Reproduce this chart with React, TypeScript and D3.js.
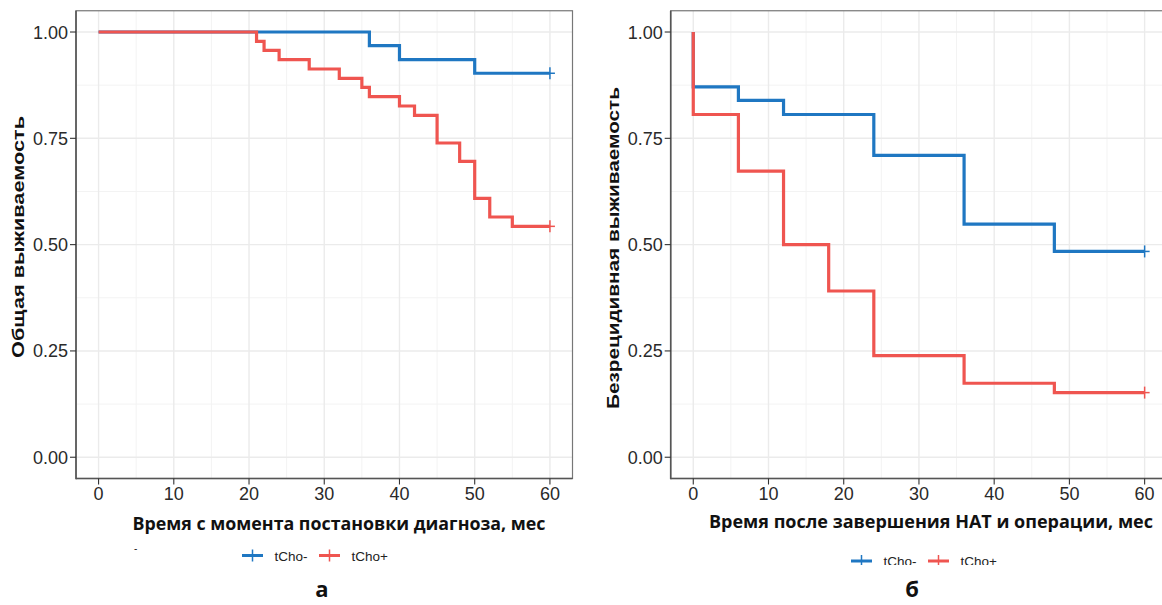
import React from 'react';
import * as d3 from 'd3';

const xTicks = [0, 10, 20, 30, 40, 50, 60];
const xMinor = [5, 15, 25, 35, 45, 55];
const yTicks = [0, 0.25, 0.5, 0.75, 1];
const yMinor = [0.125, 0.375, 0.625, 0.875];
const groups = ['tCho-', 'tCho+'];
const colors = ['#1f77c2', '#ef5550'];

// а — общая выживаемость
const osTimeNeg = [0, 36, 40, 50, 60];
const osSurvNeg = [1, 0.968, 0.935, 0.903, 0.903];
const osTimePos = [0, 21, 22, 24, 28, 32, 35, 36, 40, 42, 45, 48, 50, 52, 55, 60];
const osSurvPos = [1, 0.978, 0.957, 0.935, 0.913, 0.891, 0.87, 0.848, 0.826, 0.804, 0.739, 0.696, 0.609, 0.565, 0.543, 0.543];

// б — безрецидивная выживаемость
const dfsTimeNeg = [0, 0, 6, 12, 24, 36, 48, 60];
const dfsSurvNeg = [1, 0.871, 0.839, 0.806, 0.71, 0.548, 0.484, 0.484];
const dfsTimePos = [0, 0, 6, 12, 18, 24, 36, 48, 60];
const dfsSurvPos = [1, 0.806, 0.673, 0.5, 0.391, 0.239, 0.174, 0.152, 0.152];

const tickFont = '"Liberation Sans", Arial, sans-serif';
const titleFont = '"Open Sans", "Noto Sans", sans-serif';

type Curve = { times: number[]; surv: number[]; color: string };

const Panel = (props: {
  left: number;
  curves: Curve[];
  yTitle: string;
  yTitleX: number;
  yTitleY: number;
  yTitleLen: number;
  xTitle: string;
  xTitleX: number;
  xTitleY: number;
  xTitleLen: number;
}) => {
  const x = d3.scaleLinear().domain([-3, 63]).range([props.left, props.left + 496.5]);
  const y = d3.scaleLinear().domain([-0.05, 1.05]).range([478.5, 10.75]);
  const [x0, x1] = x.range();
  const [y0, y1] = y.range();
  const line = d3
    .line<[number, number]>()
    .x((d) => x(d[0]))
    .y((d) => y(d[1]))
    .curve(d3.curveStepAfter);

  return (
    <g>
      {/* grid */}
      {xMinor.map((t) => (
        <line key={'xm' + t} x1={x(t)} x2={x(t)} y1={y1} y2={y0} stroke="#f3f3f3" strokeWidth={1} />
      ))}
      {yMinor.map((v) => (
        <line key={'ym' + v} x1={x0} x2={x1} y1={y(v)} y2={y(v)} stroke="#f3f3f3" strokeWidth={1} />
      ))}
      {xTicks.map((t) => (
        <line key={'xg' + t} x1={x(t)} x2={x(t)} y1={y1} y2={y0} stroke="#ebebeb" strokeWidth={1.4} />
      ))}
      {yTicks.map((v) => (
        <line key={'yg' + v} x1={x0} x2={x1} y1={y(v)} y2={y(v)} stroke="#ebebeb" strokeWidth={1.4} />
      ))}

      {/* curves */}
      {props.curves.map((c, i) => {
        const pts = c.times.map((t, k) => [t, c.surv[k]] as [number, number]);
        const last = pts[pts.length - 1];
        return (
          <g key={i}>
            <path d={line(pts) || ''} fill="none" stroke={c.color} strokeWidth={3.2} />
            <line x1={x(last[0]) - 5} x2={x(last[0]) + 5} y1={y(last[1])} y2={y(last[1])} stroke={c.color} strokeWidth={1.5} />
            <line x1={x(last[0])} x2={x(last[0])} y1={y(last[1]) - 6} y2={y(last[1]) + 6} stroke={c.color} strokeWidth={1.5} />
          </g>
        );
      })}

      {/* border and axes */}
      <rect x={x0} y={y1} width={x1 - x0} height={y0 - y1} fill="none" stroke="#777" strokeWidth={1.2} />
      <line x1={x0} x2={x0} y1={y1} y2={y0 + 0.75} stroke="#555" strokeWidth={1.6} />
      <line x1={x0} x2={x1} y1={y0} y2={y0} stroke="#555" strokeWidth={1.6} />

      {yTicks.map((v) => (
        <g key={'yt' + v}>
          <line x1={x0 - 6} x2={x0} y1={y(v)} y2={y(v)} stroke="#333" strokeWidth={1.1} />
          <text x={x0 - 8} y={y(v) + 6.5} textAnchor="end" fontFamily={tickFont} fontSize={18} fill="#2a2a2a">
            {d3.format('.2f')(v)}
          </text>
        </g>
      ))}
      {xTicks.map((t) => (
        <g key={'xt' + t}>
          <line x1={x(t)} x2={x(t)} y1={y0} y2={y0 + 6} stroke="#333" strokeWidth={1.1} />
          <text x={x(t)} y={500} textAnchor="middle" fontFamily={tickFont} fontSize={18} fill="#2a2a2a">
            {t}
          </text>
        </g>
      ))}

      <text
        transform={`translate(${props.yTitleX},${props.yTitleY}) rotate(-90)`}
        textAnchor="middle"
        fontFamily={tickFont}
        fontWeight="bold"
        fontSize={17}
        textLength={props.yTitleLen}
        lengthAdjust="spacingAndGlyphs"
        fill="#111"
      >
        {props.yTitle}
      </text>
      <text
        x={props.xTitleX}
        y={props.xTitleY}
        textAnchor="middle"
        fontFamily={titleFont}
        fontWeight="bold"
        fontSize={18}
        textLength={props.xTitleLen}
        lengthAdjust="spacingAndGlyphs"
        fill="#111"
      >
        {props.xTitle}
      </text>
    </g>
  );
};

const Legend = (props: { keyX: number[]; textX: number[]; cy: number; clipId: string; clipBottom: number }) => (
  <g>
    <defs>
      <clipPath id={props.clipId}>
        <rect x={props.keyX[0] - 20} y={props.cy - 30} width={220} height={props.clipBottom - props.cy + 30} />
      </clipPath>
    </defs>
    <g clipPath={`url(#${props.clipId})`}>
      {groups.map((g, i) => (
        <g key={g}>
          <line x1={props.keyX[i]} x2={props.keyX[i] + 21} y1={props.cy} y2={props.cy} stroke={colors[i]} strokeWidth={3} />
          <line x1={props.keyX[i] + 10.5} x2={props.keyX[i] + 10.5} y1={props.cy - 6} y2={props.cy + 6} stroke={colors[i]} strokeWidth={1.5} />
          <text x={props.textX[i]} y={props.cy + 5} fontFamily={tickFont} fontSize={13.5} fill="#222">
            {g}
          </text>
        </g>
      ))}
    </g>
  </g>
);

export default function App() {
  return (
    <div>
      <style>{'body{margin:0}'}</style>
      <svg width={1162} height={605} style={{ display: 'block', background: '#fff' }}>
        <Panel
          left={76}
          curves={[
            { times: osTimeNeg, surv: osSurvNeg, color: colors[0] },
            { times: osTimePos, surv: osSurvPos, color: colors[1] },
          ]}
          yTitle="Общая выживаемость"
          yTitleX={24}
          yTitleY={237}
          yTitleLen={242}
          xTitle="Время с момента постановки диагноза, мес"
          xTitleX={339}
          xTitleY={530}
          xTitleLen={413}
        />
        <Panel
          left={670.7}
          curves={[
            { times: dfsTimeNeg, surv: dfsSurvNeg, color: colors[0] },
            { times: dfsTimePos, surv: dfsSurvPos, color: colors[1] },
          ]}
          yTitle="Безрецидивная выживаемость"
          yTitleX={619}
          yTitleY={248}
          yTitleLen={322}
          xTitle="Время после завершения НАТ и операции, мес"
          xTitleX={931}
          xTitleY={528}
          xTitleLen={444}
        />
        <text x={134} y={552} fontFamily={tickFont} fontSize={10} fill="#222">
          -
        </text>
        <Legend keyX={[242, 319]} textX={[274.5, 351.5]} cy={555.5} clipId="lgA" clipBottom={605} />
        <Legend keyX={[851, 928]} textX={[883.5, 960.5]} cy={561} clipId="lgB" clipBottom={565} />
        <text x={322} y={597} textAnchor="middle" fontFamily={titleFont} fontWeight="bold" fontSize={22} fill="#111">
          а
        </text>
        <text x={912} y={597} textAnchor="middle" fontFamily={titleFont} fontWeight="bold" fontSize={22} fill="#111">
          б
        </text>
      </svg>
    </div>
  );
}
